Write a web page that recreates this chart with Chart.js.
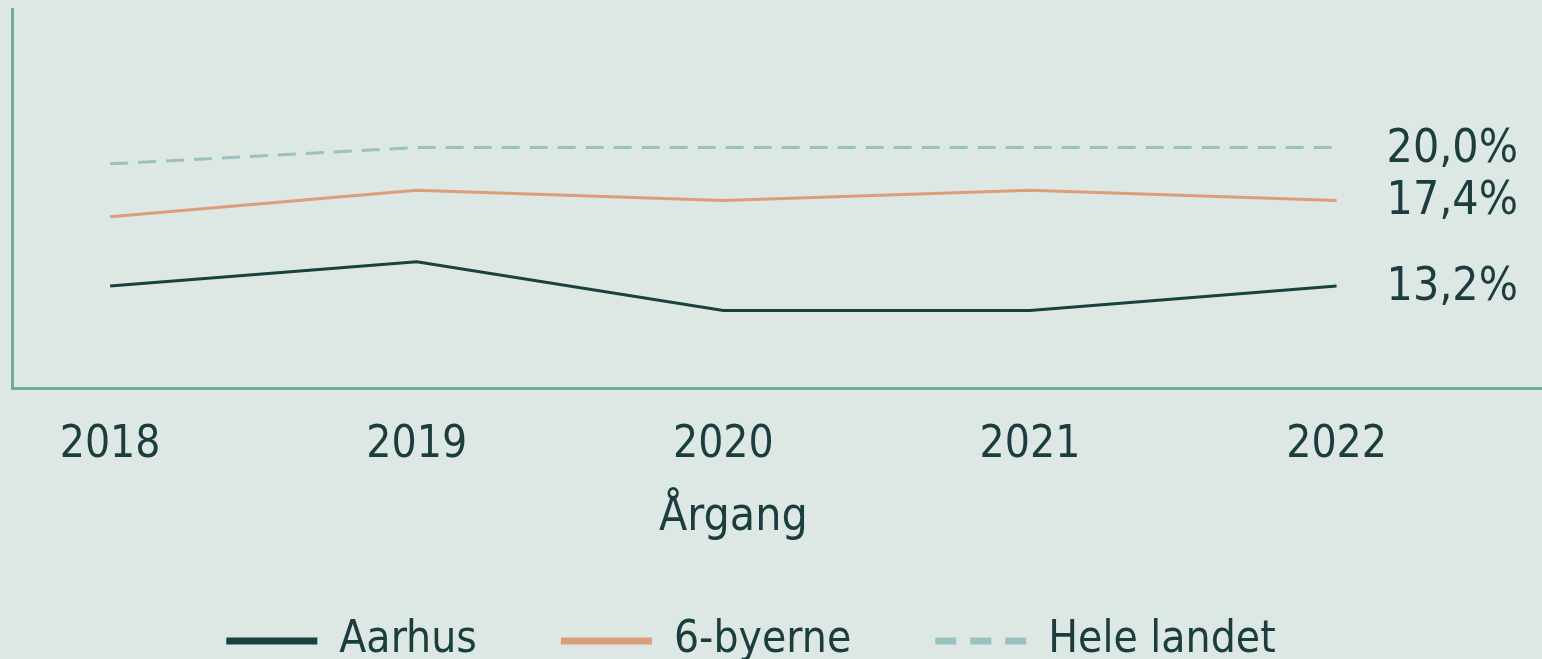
<!DOCTYPE html>
<html lang="da">
<head>
<meta charset="utf-8">
<title>Årgang</title>
<script src="https://cdn.jsdelivr.net/npm/chart.js@4.4.1/dist/chart.umd.min.js"></script>
<style>
  html, body { margin: 0; padding: 0; background: #dde7e3; overflow: hidden; }
  #wrap { position: relative; width: 1542px; height: 674px; }
</style>
</head>
<body>
<div id="wrap"><canvas id="chart"></canvas></div>
<script>
// data
const years = [2018, 2019, 2020, 2021, 2022];
const aarhus = [13.2, 14.4, 12.0, 12.0, 13.2];
const seksByerne = [16.6, 17.9, 17.4, 17.9, 17.4];
const heleLandet = [19.2, 20.0, 20.0, 20.0, 20.0];
const seriesNames = ['Aarhus', '6-byerne', 'Hele landet'];
const axisTitle = 'Årgang';

const textColor = '#1b3d3e';
const axisColor = '#6aaca1';
const fontFamily = '"Liberation Sans Narrow", "DejaVu Sans Condensed", sans-serif';

function points(values) {
    return years.map((yr, i) => ({ x: yr, y: values[i] }));
}

// etiketter ved sidste punkt
const endLabels = {
    id: 'endLabels',
    afterDatasetsDraw(chart) {
        const ctx = chart.ctx;
        ctx.save();
        ctx.font = '46px ' + fontFamily;
        ctx.fillStyle = textColor;
        ctx.textBaseline = 'middle';
        chart.data.datasets.forEach((ds, i) => {
            const meta = chart.getDatasetMeta(i);
            const last = meta.data[meta.data.length - 1];
            const v = ds.data[ds.data.length - 1].y;
            ctx.fillText(v.toFixed(1).replace('.', ',') + '%', last.x + 50, last.y + 2);
        });
        ctx.restore();
    }
};

// aksetitel centreret under årstallene
const axisTitleLabel = {
    id: 'axisTitleLabel',
    afterDraw(chart) {
        const xs = chart.scales.x;
        const ctx = chart.ctx;
        const cx = (xs.getPixelForValue(years[0]) + xs.getPixelForValue(years[years.length - 1])) / 2;
        ctx.save();
        ctx.font = '46px ' + fontFamily;
        ctx.fillStyle = textColor;
        ctx.textAlign = 'center';
        ctx.textBaseline = 'middle';
        ctx.fillText(axisTitle, cx + 10, xs.top + 130);
        ctx.restore();
    }
};

// fast højde på legenden, og lidt forskudt mod venstre som i originalen
const legendBox = {
    id: 'legendBox',
    beforeInit(chart) {
        const fitOrig = chart.legend.fit;
        chart.legend.fit = function () {
            fitOrig.call(this);
            this.height = 139;
        };
    },
    afterLayout(chart) {
        chart.legend.left -= 26;
        chart.legend.right -= 26;
    }
};

const ctx = document.getElementById('chart').getContext('2d');
new Chart(ctx, {
    type: 'line',
    data: {
        datasets: [
            { label: seriesNames[0], data: points(aarhus), borderColor: '#17423f', backgroundColor: '#17423f', borderWidth: 3 },
            { label: seriesNames[1], data: points(seksByerne), borderColor: '#dc9d7a', backgroundColor: '#dc9d7a', borderWidth: 3 },
            { label: seriesNames[2], data: points(heleLandet), borderColor: '#98c1c0', backgroundColor: '#98c1c0', borderWidth: 3, borderDash: [18, 10] }
        ]
    },
    options: {
        responsive: true,
        maintainAspectRatio: false,
        animation: false,
        elements: { point: { radius: 0 }, line: { tension: 0 } },
        layout: { padding: { left: 12, top: 9, right: 0, bottom: 0 } },
        plugins: {
            tooltip: { enabled: false },
            legend: {
                display: true,
                position: 'bottom',
                labels: {
                    color: textColor,
                    font: { family: fontFamily, size: 44 },
                    usePointStyle: true,
                    pointStyle: 'line',
                    pointStyleWidth: 91,
                    padding: 84,
                    generateLabels(chart) {
                        return chart.data.datasets.map((ds, i) => ({
                            text: ds.label,
                            fillStyle: ds.borderColor,
                            strokeStyle: ds.borderColor,
                            lineWidth: 7,
                            lineDash: i === 2 ? [21, 14] : [],
                            pointStyle: 'line',
                            fontColor: textColor,
                            datasetIndex: i
                        }));
                    }
                }
            }
        },
        scales: {
            x: {
                type: 'linear',
                min: 2017.68,
                max: 2022.67,
                afterFit(scale) { scale.height = 147; },
                grid: { display: false, drawTicks: false },
                border: { display: true, color: axisColor, width: 3 },
                ticks: {
                    stepSize: 1,
                    includeBounds: false,
                    padding: 31,
                    color: textColor,
                    font: { family: fontFamily, size: 44 },
                    callback: v => Number.isInteger(v) ? String(v) : ''
                }
            },
            y: {
                min: 8.2,
                max: 26.8,
                grid: { display: false, drawTicks: false },
                border: { display: true, color: axisColor, width: 3 },
                ticks: { display: false }
            }
        }
    },
    plugins: [endLabels, axisTitleLabel, legendBox]
});
</script>
</body>
</html>
